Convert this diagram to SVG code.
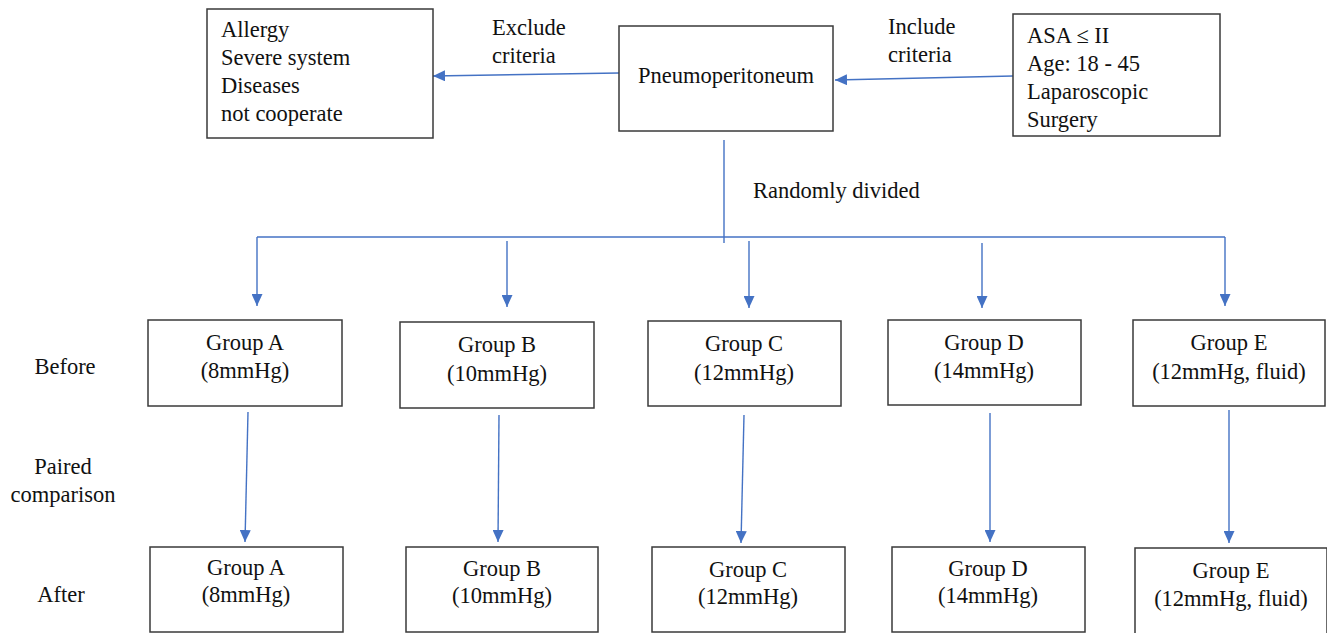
<svg xmlns="http://www.w3.org/2000/svg" width="1327" height="633" viewBox="0 0 1327 633">
<style>
  .box { fill: #ffffff; stroke: #3a3a3a; stroke-width: 1.5; }
  .t { font-size: 22.5px; fill: #111111; }
  .c { text-anchor: middle; }
  .ln { stroke: #4472C4; stroke-width: 1.4; fill: none; }
  .ar { stroke: #4472C4; stroke-width: 1.4; fill: none; marker-end: url(#ah); }
</style>
<defs>
  <marker id="ah" markerUnits="userSpaceOnUse" markerWidth="12" markerHeight="11" refX="12" refY="5.5" orient="auto">
    <path d="M0,0 L12,5.5 L0,11 z" fill="#4472C4"/>
  </marker>
</defs>
<rect width="1327" height="633" fill="#ffffff"/>

<g id="connectors">
  <line class="ar" x1="619" y1="73" x2="433" y2="76"/>
  <line class="ar" x1="1013" y1="76" x2="835" y2="80"/>
  <line class="ln" x1="724" y1="140" x2="724" y2="243"/>
  <line class="ln" x1="257" y1="237" x2="1225" y2="237"/>
  <line class="ar" x1="257" y1="237" x2="257" y2="306"/>
  <line class="ar" x1="507" y1="241" x2="507" y2="307"/>
  <line class="ar" x1="749" y1="241" x2="749" y2="308"/>
  <line class="ar" x1="982" y1="243" x2="982" y2="308"/>
  <line class="ar" x1="1225" y1="237" x2="1225" y2="306"/>
  <line class="ar" x1="248" y1="412" x2="245" y2="542"/>
  <line class="ar" x1="499" y1="415" x2="498" y2="542"/>
  <line class="ar" x1="744" y1="415" x2="741" y2="543"/>
  <line class="ar" x1="990" y1="413" x2="990" y2="542"/>
  <line class="ar" x1="1229" y1="410" x2="1229" y2="543"/>
</g>

<g font-family="Liberation Serif, Times New Roman, Tinos, DejaVu Serif, Noto Serif, FreeSerif, serif">
<g id="exclude-box">
  <rect class="box" x="207" y="9" width="226" height="129"/>
  <text class="t" x="221" y="37">Allergy</text>
  <text class="t" x="221" y="65">Severe system</text>
  <text class="t" x="221" y="93">Diseases</text>
  <text class="t" x="221" y="121">not cooperate</text>
</g>

<g id="exclude-label">
  <text class="t" x="492" y="35">Exclude</text>
  <text class="t" x="492" y="63">criteria</text>
</g>

<g id="pneumoperitoneum">
  <rect class="box" x="619" y="26" width="214" height="105"/>
  <text class="t c" x="726" y="83">Pneumoperitoneum</text>
</g>

<g id="include-label">
  <text class="t" x="888" y="34">Include</text>
  <text class="t" x="888" y="62">criteria</text>
</g>

<g id="include-box">
  <rect class="box" x="1013" y="14" width="207" height="122"/>
  <text class="t" x="1027" y="43">ASA ≤ II</text>
  <text class="t" x="1027" y="71">Age: 18 - 45</text>
  <text class="t" x="1027" y="99">Laparoscopic</text>
  <text class="t" x="1027" y="127">Surgery</text>
</g>

<g id="randomly-label">
  <text class="t" x="753" y="198">Randomly divided</text>
</g>

<g id="row-labels">
  <text class="t c" x="65" y="374">Before</text>
  <text class="t c" x="63" y="474">Paired</text>
  <text class="t c" x="63" y="502">comparison</text>
  <text class="t c" x="61" y="602">After</text>
</g>

<g id="before-a">
  <rect class="box" x="148" y="320" width="194" height="86"/>
  <text class="t c" x="245" y="350">Group A</text>
  <text class="t c" x="245" y="378">(8mmHg)</text>
</g>
<g id="before-b">
  <rect class="box" x="400" y="322" width="194" height="86"/>
  <text class="t c" x="497" y="352">Group B</text>
  <text class="t c" x="497" y="381">(10mmHg)</text>
</g>
<g id="before-c">
  <rect class="box" x="648" y="321" width="193" height="85"/>
  <text class="t c" x="744" y="351">Group C</text>
  <text class="t c" x="744" y="380">(12mmHg)</text>
</g>
<g id="before-d">
  <rect class="box" x="888" y="320" width="193" height="85"/>
  <text class="t c" x="984" y="350">Group D</text>
  <text class="t c" x="984" y="378">(14mmHg)</text>
</g>
<g id="before-e">
  <rect class="box" x="1133" y="320" width="192" height="86"/>
  <text class="t c" x="1229" y="350">Group E</text>
  <text class="t c" x="1229" y="379">(12mmHg, fluid)</text>
</g>

<g id="after-a">
  <rect class="box" x="150" y="547" width="193" height="85"/>
  <text class="t c" x="246" y="575">Group A</text>
  <text class="t c" x="246" y="602">(8mmHg)</text>
</g>
<g id="after-b">
  <rect class="box" x="406" y="547" width="192" height="85"/>
  <text class="t c" x="502" y="576">Group B</text>
  <text class="t c" x="502" y="603">(10mmHg)</text>
</g>
<g id="after-c">
  <rect class="box" x="652" y="547" width="193" height="85"/>
  <text class="t c" x="748" y="577">Group C</text>
  <text class="t c" x="748" y="604">(12mmHg)</text>
</g>
<g id="after-d">
  <rect class="box" x="892" y="547" width="193" height="85"/>
  <text class="t c" x="988" y="576">Group D</text>
  <text class="t c" x="988" y="603">(14mmHg)</text>
</g>
<g id="after-e">
  <rect class="box" x="1135" y="548" width="192" height="86"/>
  <text class="t c" x="1231" y="578">Group E</text>
  <text class="t c" x="1231" y="606">(12mmHg, fluid)</text>
</g>
</g>
</svg>
